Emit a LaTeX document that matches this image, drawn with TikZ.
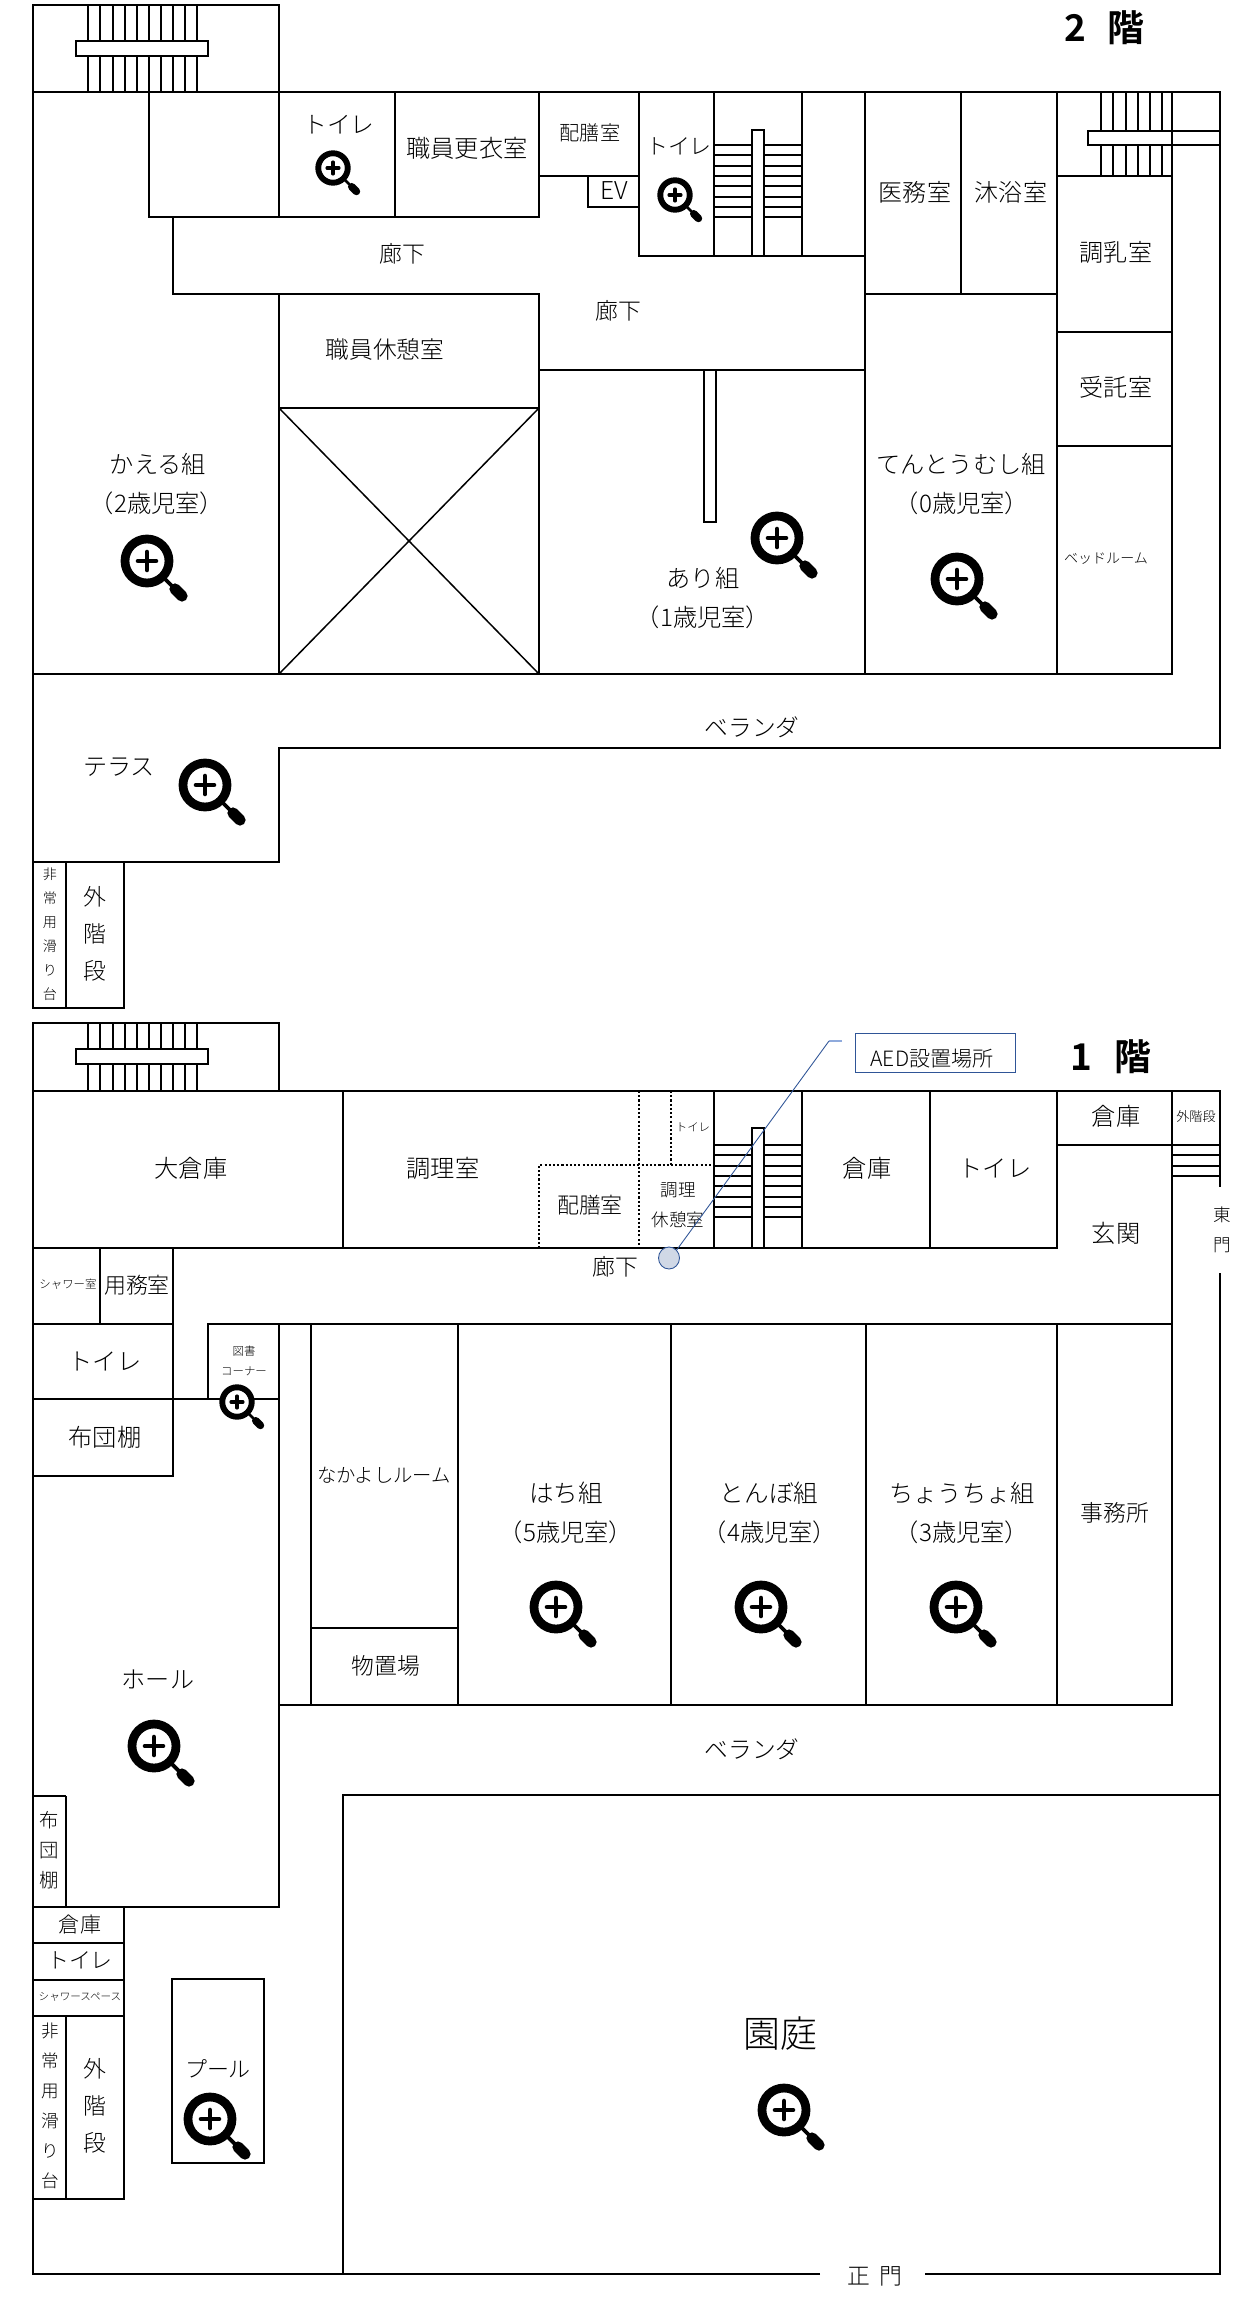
\documentclass[tikz,border=0pt]{standalone}
\usepackage{fontspec}
\setmainfont{Noto Sans CJK JP}[UprightFont=* Light, BoldFont=* Bold]
\usetikzlibrary{shapes.geometric, positioning}
\definecolor{aedblue}{RGB}{47, 85, 151}
\definecolor{aedfill}{RGB}{208, 216, 230}
\definecolor{aedlead}{RGB}{143, 170, 220}
\tikzset{
  wall/.style={line width=1.15pt, black},
  stairline/.style={line width=0.85pt, black},
  stepline/.style={line width=1.15pt, black},
  dotwall/.style={line width=1.15pt, black, dash pattern=on 1.2pt off 1.2pt},
  roomtext/.style={font=\fontsize{#1}{#1}\selectfont, inner sep=0pt},
  roomtext/.default=13.8,
  coltext/.style 2 args={font=\fontsize{#1}{#2}\selectfont, inner sep=0pt, align=center},
  floortext/.style={font=\fontsize{21}{21}\selectfont\bfseries, inner sep=0pt}
}
\begin{document}
\begin{tikzpicture}[x=0.02cm, y=-0.02cm]
  \useasboundingbox (0,0) rectangle (1249,2308);
  % 2nd floor, stairs
  \foreach \sx in {88,100,113,125,137,149,161,173,185,197} {
    \draw[stairline] (\sx,5) -- (\sx,92);
    \draw[stairline] (\sx,1023) -- (\sx,1091);
  }
  \draw[wall, fill=white] (76,41) rectangle (208,56);
  \draw[wall, fill=white] (76,1049) rectangle (208,1064);
  \foreach \sx in {1101,1113,1126,1138,1150,1162} {
    \draw[stairline] (\sx,92) -- (\sx,176);
  }
  \draw[wall, fill=white] (1088,131) rectangle (1220,145);
  \foreach \sy in {145,155,166,176,186,197,207,217} {
    \draw[stepline] (714,\sy) -- (752,\sy);
    \draw[stepline] (764,\sy) -- (802,\sy);
    \draw[stepline] (714,\sy+1000) -- (752,\sy+1000);
    \draw[stepline] (764,\sy+1000) -- (802,\sy+1000);
  }
  \draw[wall] (752,256) -- (752,130) -- (764,130) -- (764,256);
  \draw[wall] (752,1248) -- (752,1128) -- (764,1128) -- (764,1248);
  % 2nd floor, walls
  \draw[wall] (33,92) -- (33,5) -- (279,5) -- (279,92);
  \draw[wall] (33,92) -- (1220,92) -- (1220,748) -- (279,748) -- (279,862) -- (33,862) -- cycle;
  \draw[wall] (33,674) -- (1172,674) -- (1172,92);
  \draw[wall] (149,92) -- (149,217) -- (539,217) -- (539,92);
  \draw[wall] (279,92) -- (279,217);
  \draw[wall] (395,92) -- (395,217);
  \draw[wall] (539,176) -- (639,176);
  \draw[wall] (588,176) -- (588,207) -- (639,207);
  \draw[wall] (639,92) -- (639,256) -- (865,256);
  \draw[wall] (714,92) -- (714,256);
  \draw[wall] (802,92) -- (802,256);
  \draw[wall] (865,92) -- (865,674);
  \draw[wall] (961,92) -- (961,294);
  \draw[wall] (1057,92) -- (1057,674);
  \draw[wall] (173,217) -- (173,294) -- (539,294) -- (539,674);
  \draw[wall] (865,294) -- (1057,294);
  \draw[wall] (279,294) -- (279,674);
  \draw[wall] (279,408) rectangle (539,674);
  \draw[stairline] (279,408) -- (539,674);
  \draw[stairline] (539,408) -- (279,674);
  \draw[wall] (539,370) -- (865,370);
  \draw[wall] (704,370) -- (704,522) -- (716,522) -- (716,370);
  \draw[wall] (1057,176) -- (1172,176);
  \draw[wall] (1057,332) -- (1172,332);
  \draw[wall] (1057,446) -- (1172,446);
  \draw[wall] (33,862) rectangle (124,1008);
  \draw[wall] (66,862) -- (66,1008);
  % 1st floor, walls
  \draw[wall] (33,1091) -- (33,1023) -- (279,1023) -- (279,1091);
  \draw[wall] (33,1091) -- (1220,1091) -- (1220,1187);
  \draw[wall] (1220,1273) -- (1220,2274) -- (925,2274);
  \draw[wall] (820,2274) -- (33,2274) -- (33,1091);
  \draw[wall] (33,1248) -- (1057,1248) -- (1057,1091);
  \draw[wall] (343,1091) -- (343,1248);
  \draw[wall] (714,1091) -- (714,1248);
  \draw[wall] (802,1091) -- (802,1248);
  \draw[wall] (930,1091) -- (930,1248);
  \draw[wall] (1057,1145) -- (1220,1145);
  \draw[wall] (1172,1091) -- (1172,1705) -- (279,1705);
  \foreach \sy in {1155,1166,1176} {
    \draw[stepline] (1172,\sy) -- (1220,\sy);
  }
  \draw[dotwall] (539,1248) -- (539,1165) -- (714,1165);
  \draw[dotwall] (639,1091) -- (639,1248);
  \draw[dotwall] (671,1091) -- (671,1165);
  \draw[wall] (100,1248) -- (100,1324);
  \draw[wall] (33,1324) -- (173,1324);
  \draw[wall] (173,1248) -- (173,1476) -- (33,1476);
  \draw[wall] (33,1399) -- (279,1399);
  \draw[wall] (208,1399) -- (208,1324) -- (1172,1324);
  \draw[wall] (279,1324) -- (279,1907) -- (33,1907);
  \draw[wall] (311,1324) -- (311,1705);
  \draw[wall] (458,1324) -- (458,1705);
  \draw[wall] (671,1324) -- (671,1705);
  \draw[wall] (866,1324) -- (866,1705);
  \draw[wall] (1057,1324) -- (1057,1705);
  \draw[wall] (311,1628) -- (458,1628);
  \draw[wall] (66,1796) -- (33,1796);
  \draw[wall] (66,1796) -- (66,1907);
  \draw[wall] (33,1907) rectangle (124,2199);
  \draw[wall] (33,1943) -- (124,1943);
  \draw[wall] (33,1980) -- (124,1980);
  \draw[wall] (33,2016) -- (124,2016);
  \draw[wall] (66,2016) -- (66,2199);
  \draw[wall] (172,1979) rectangle (264,2163);
  \draw[wall] (343,2274) -- (343,1795) -- (1220,1795);
  % zoom icons
  \foreach \ix/\iy/\is in {333/168/0.67, 675/195/0.67, 147/561/1, 777/538/1, 957/579/1,
      205/785/1, 237/1402/0.67, 556/1607/1, 761/1607/1, 956/1607/1, 154/1746/1, 210/2119/1, 784/2110/1} {
    \draw[line width=\is*5pt, fill=white] (\ix,\iy) circle ({22*\is});
    \draw[line width=\is*2.6pt, line cap=round] (\ix-9*\is,\iy) -- (\ix+9*\is,\iy);
    \draw[line width=\is*2.6pt, line cap=round] (\ix,\iy-9*\is) -- (\ix,\iy+9*\is);
    \draw[line width=\is*2.2pt] (\ix+18*\is,\iy+18*\is) -- (\ix+25*\is,\iy+25*\is);
    \draw[line width=\is*6.4pt, line cap=round] (\ix+28*\is,\iy+28*\is) -- (\ix+35*\is,\iy+35*\is);
  }
  % 2nd floor, labels
  \node[floortext] (floortwonum) at (1075,28) {2};
  \node[floortext] (floortwo) at (1126,28) {階};
  \node[roomtext=13.5] (wctwoa) at (339,125) {トイレ};
  \node[roomtext] (lockers) at (467,148) {職員更衣室};
  \node[roomtext=11.5] (pantrytwo) at (590,133) {配膳室};
  \node[roomtext=14] (ev) at (614,191) {EV};
  \node[roomtext=13] (hallone) at (402,254) {廊下};
  \node[roomtext=13] (halltwo) at (618,311) {廊下};
  \node[roomtext=13.5] (staffrest) at (385,349) {職員休憩室};
  \node[roomtext=12.5] (wctwob) at (679,146) {トイレ};
  \node[roomtext=13.7] (medical) at (915,192) {医務室};
  \node[roomtext=13.7] (bath) at (1011,192) {沐浴室};
  \node[roomtext=13.7] (milk) at (1116,252) {調乳室};
  \node[roomtext=13.7] (trust) at (1116,387) {受託室};
  \node[roomtext=8] (bedroom) at (1106,559) {ベッドルーム};
  \node[roomtext] (frog) at (158,464) {かえる組};
  \node[roomtext] (frogage) at (157,503) {（2歳児室）};
  \node[roomtext] (ant) at (703,578) {あり組};
  \node[roomtext] (antage) at (703,617) {（1歳児室）};
  \node[roomtext] (ladybug) at (961,464) {てんとうむし組};
  \node[roomtext] (ladybugage) at (962,503) {（0歳児室）};
  \node[roomtext=13.5] (verandatwo) at (752,727) {ベランダ};
  \node[roomtext=13.7] (terrace) at (119,767) {テラス};
  \node[coltext={8}{13.7}] (slidetwo) at (50,934) {非\\常\\用\\滑\\り\\台};
  \node[coltext={13}{21}] (extstairtwo) at (95,934) {外\\階\\段};
  % 1st floor, labels
  \node[floortext] (flooronenum) at (1081,1057) {1};
  \node[floortext] (floorone) at (1133,1057) {階};
  \node[roomtext] (storebig) at (191,1168) {大倉庫};
  \node[roomtext] (kitchen) at (443,1168) {調理室};
  \node[roomtext=12.5] (pantryone) at (590,1205) {配膳室};
  \node[roomtext=6.5] (wcsmall) at (693,1127) {トイレ};
  \node[coltext={10}{17}] (cookrest) at (678,1205) {調理\\休憩室};
  \node[roomtext] (storemid) at (867,1168) {倉庫};
  \node[roomtext] (wcone) at (995,1168) {トイレ};
  \node[roomtext] (storeright) at (1116,1116) {倉庫};
  \node[roomtext=7.5] (extstairsmall) at (1196,1116) {外階段};
  \node[roomtext] (entrance) at (1116,1233) {玄関};
  \node[coltext={10}{17}] (eastgate) at (1222,1230) {東\\門};
  \node[roomtext=13] (hallthree) at (615,1267) {廊下};
  \node[roomtext=6.5] (shower) at (68,1284) {シャワー室};
  \node[roomtext=12.5] (janitor) at (137,1285) {用務室};
  \node[roomtext] (wcleft) at (105,1361) {トイレ};
  \node[roomtext] (futon) at (105,1437) {布団棚};
  \node[coltext={6.5}{11.5}] (library) at (244,1361) {図書\\コーナー};
  \node[roomtext=11] (friends) at (384,1475) {なかよしルーム};
  \node[roomtext=14] (bee) at (566,1493) {はち組};
  \node[roomtext] (beeage) at (566,1532) {（5歳児室）};
  \node[roomtext=14] (dragonfly) at (769,1493) {とんぼ組};
  \node[roomtext] (dragonflyage) at (770,1532) {（4歳児室）};
  \node[roomtext] (butterfly) at (962,1493) {ちょうちょ組};
  \node[roomtext] (butterflyage) at (962,1532) {（3歳児室）};
  \node[roomtext=13] (office) at (1115,1513) {事務所};
  \node[roomtext=13] (shed) at (386,1666) {物置場};
  \node[roomtext=13.5] (verandaone) at (752,1749) {ベランダ};
  \node[roomtext=13.7] (hall) at (158,1679) {ホール};
  \node[roomtext=21] (garden) at (780,2034) {園庭};
  \node[roomtext=13] (gate) at (875,2276) {正\hspace{5pt}門};
  \node[coltext={11}{17}] (futoncol) at (49,1850) {布\\団\\棚};
  \node[roomtext=12] (storelow) at (80,1924) {倉庫};
  \node[roomtext=12.5] (wclow) at (80,1960) {トイレ};
  \node[roomtext=6] (showerlow) at (80,1997) {シャワースペース};
  \node[coltext={10}{17.1}] (slideone) at (50,2106) {非\\常\\用\\滑\\り\\台};
  \node[coltext={13}{21}] (extstairone) at (95,2106) {外\\階\\段};
  \node[roomtext=12.5] (pool) at (218,2069) {プール};
  % AED callout
  \node[draw=aedblue, line width=0.5pt, minimum width=160*0.569pt, minimum height=39*0.569pt, inner sep=0pt] (aedbox) at (935,1052.5) {};
  \node[roomtext=12] (aedlabel) at (932,1059) {AED設置場所};
  \node[ellipse, draw=aedblue, fill=aedfill, line width=0.5pt, minimum width=21*0.569pt, minimum height=22*0.569pt, inner sep=0pt] (aedspot) at (669,1258) {};
  \coordinate (aedend) at (842,1041);
  \coordinate (aedbend) at (829,1041);
  \draw[aedlead, line width=1pt] (aedend) -- (aedbend);
  \draw[aedblue, line width=0.5pt] (aedbend) -- (aedspot.north east);
\end{tikzpicture}
\end{document}
